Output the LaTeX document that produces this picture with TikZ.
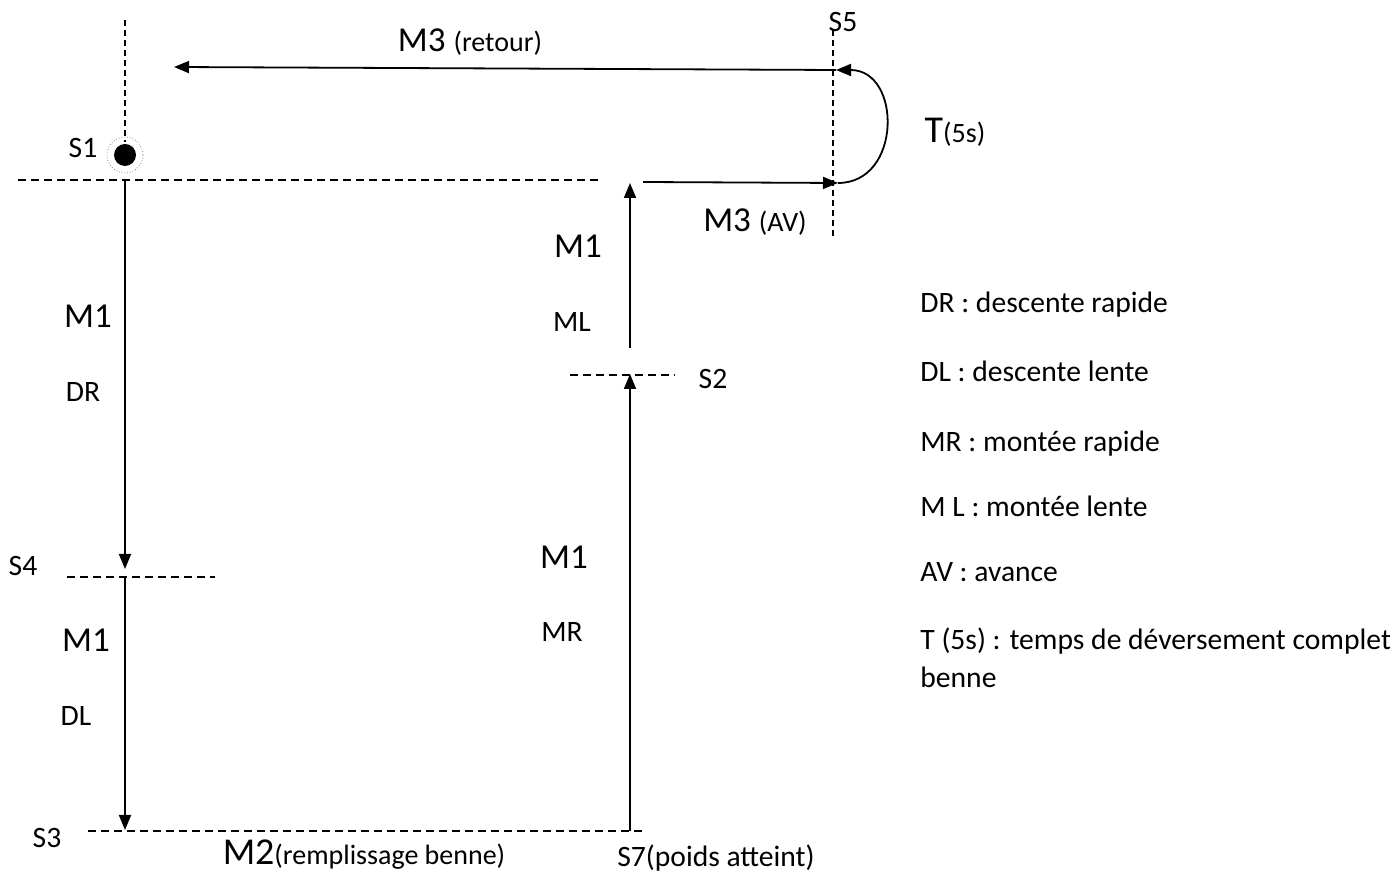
\documentclass[tikz,border=0pt]{standalone}
\usepackage{fontspec}
\setmainfont{Carlito}
\usetikzlibrary{arrows.meta,positioning}

\newcommand{\petit}{\fontsize{14}{16}\selectfont}

\begin{document}
\begin{tikzpicture}[
  x=0.5pt, y=-0.5pt,
  lbl/.style={font=\fontsize{14.8}{17}\selectfont, inner sep=0pt},
  mot/.style={font=\fontsize{17.5}{21}\selectfont, inner sep=0pt},
  arr/.style={-{Triangle[length=7.5pt,width=6pt]}, line width=0.9pt},
  seuil/.style={dash pattern=on 4pt off 2.5pt, line width=0.7pt},
  axe/.style={dash pattern=on 3pt off 2pt, line width=1pt}
]
\useasboundingbox (0,0) rectangle (1394,876);

% points du cycle
\coordinate (s1top) at (125,20);
\coordinate (s1) at (125,155);
\coordinate (p1) at (125,180);
\coordinate (p4a) at (125,569);
\coordinate (p4) at (125,577);
\coordinate (p3) at (125,830);
\coordinate (q3) at (630,831);
\coordinate (q2) at (630,374);
\coordinate (q2b) at (630,348);
\coordinate (q1) at (630,183);
\coordinate (av0) at (643,182);
\coordinate (av1) at (838,183);
\coordinate (re0) at (836,70);
\coordinate (re1) at (174,67);
\coordinate (s5top) at (833,30);
\coordinate (s5bot) at (833,238);

% seuils
\draw[seuil] (18,180) -- (600,180);
\draw[seuil] (67,577) -- (215,577);
\draw[seuil] (88,831) -- (645,831);
\draw[seuil] (570,375) -- (675,375);
\draw[axe] (s1top) -- (125,142);
\draw[axe] (s5top) -- (s5bot);

% capteur S1
\fill (s1) circle (11);
\draw[densely dotted, gray, line width=0.4pt] (s1) circle (18);

% mouvements
\draw[arr] (p1) -- (p4a);
\draw[arr] (p4) -- (p3);
\draw[arr] (q3) -- (q2);
\draw[arr] (q2b) -- (q1);
\draw[arr] (av0) -- (av1);
\draw[arr] (av1) .. controls (902,183) and (902,70) .. (re0);
\draw[arr] (re0) -- (re1);

% capteurs
\node[lbl] (ls1) at (83,148) {S1};
\node[lbl] (ls4) at (23,566) {S4};
\node[lbl] (ls3) at (47,838) {S3};
\node[lbl] (ls2) at (713,379) {S2};
\node[lbl] (ls5) at (843,22) {S5};
\node[lbl] (ls7) at (716,858) {S7(poids atteint)};

% moteurs
\node[mot] (m1dr) at (88,316) {M1};
\node[lbl] (dr) at (83,392) {DR};
\node[mot] (m1dl) at (86,640) {M1};
\node[lbl] (dl) at (76,716) {DL};
\node[mot] (m1ml) at (578,246) {M1};
\node[lbl] (ml) at (572,322) {ML};
\node[mot] (m1mr) at (564,557) {M1};
\node[lbl] (mr) at (562,632) {MR};
\node[mot] (m3re) at (470,42) {M3 {\petit(retour)}};
\node[mot] (m3av) at (755,222) {M3 {\petit(AV)}};
\node[mot, font=\fontsize{19}{23}\selectfont] (m2) at (364,855) {M2{\petit(remplissage benne)}};
\node[mot, font=\fontsize{19}{23}\selectfont] (tempo) at (955,132) {T{\petit(5s)}};

% legende
\foreach \y/\txt [count=\i] in {313/DR : descente rapide, 382/DL : descente lente,
    452/MR : montée rapide, 517/M L : montée lente, 582/AV : avance,
    650/T (5s) : temps de déversement complet, 688/benne}
  \node[lbl, anchor=base west] (leg\i) at (920,\y) {\txt};
\end{tikzpicture}
\end{document}
